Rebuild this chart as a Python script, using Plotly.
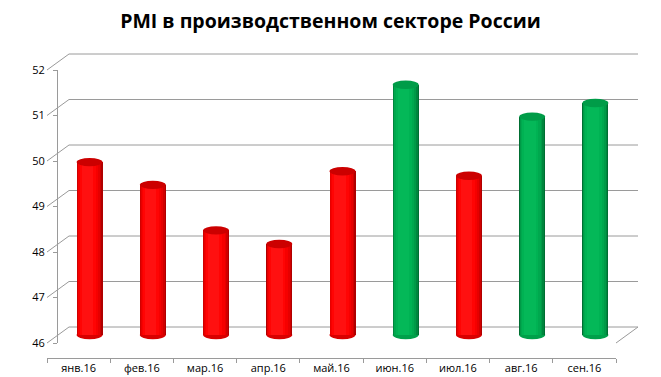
import plotly.graph_objects as go

# ---------------- data ----------------
categories = ["янв.16", "фев.16", "мар.16", "апр.16", "май.16",
              "июн.16", "июл.16", "авг.16", "сен.16"]
pmi = [49.8, 49.3, 48.3, 48.0, 49.6, 51.5, 49.5, 50.8, 51.1]
y_ticks = [46, 47, 48, 49, 50, 51, 52]
threshold = 50.0
title_text = "PMI в производственном секторе России"

# ---------------- geometry / style ----------------
W, H = 661, 377
FX0, FX1 = 47, 616          # front plane x (pixels)
FY_LO, FY_HI = 343, 70      # front plane y pixel of y-min / y-max
DEPTH_X, DEPTH_Y = 22, -16  # offset of back wall
Y_MIN, Y_MAX = 46, 52
PX_PER_UNIT = (FY_LO - FY_HI) / (Y_MAX - Y_MIN)
BAR_RANGE_LO = 45.5
GRID = "#9a9a9a"
FONT = "Open Sans"

def xdom(p0, p1):
    return [p0 / W, p1 / W]

def ydom(p_lo, p_hi):
    return [1 - p_lo / H, 1 - p_hi / H]

n = len(categories)
idx = list(range(n))
cat_px = (FX1 - FX0) / n
bar_w = 26 / cat_px
cap_h = 4.2 / PX_PER_UNIT

RED = dict(layers=["#b00000", "#d00000", "#e60000", "#f60000", "#ff0404", "#ff1010"],
           cap="#cc0000", bottom="#d80000")
GREEN = dict(layers=["#006e32", "#00863e", "#009a47", "#00a84e", "#00b253", "#04b858"],
             cap="#009c48", bottom="#00a04a")
layer_scale = [1.0, 0.94, 0.86, 0.76, 0.62, 0.44]
layer_shift = [0.0, -0.015, -0.035, -0.055, -0.075, -0.09]

pal = [GREEN if v >= threshold else RED for v in pmi]

fig = go.Figure()

# cylinder bodies (mid plane axes)
for li, sc in enumerate(layer_scale):
    w = bar_w * sc
    fig.add_trace(go.Bar(
        x=idx, y=[v - Y_MIN for v in pmi], base=Y_MIN,
        width=w, offset=-w / 2 + layer_shift[li] * bar_w,
        marker=dict(color=[p["layers"][li] for p in pal], line=dict(width=0)),
        xaxis="x2", yaxis="y2", showlegend=False, hoverinfo="skip"))

# front axes (labels)
fig.add_trace(go.Scatter(x=categories, y=pmi, mode="markers", marker=dict(opacity=0),
                         xaxis="x3", yaxis="y3", showlegend=False, hoverinfo="skip"))

shapes = []
# back-wall gridlines and depth diagonals
for t in y_ticks:
    py = FY_LO - (t - Y_MIN) * PX_PER_UNIT
    shapes.append(dict(type="line", xref="paper", yref="paper", layer="below",
                       x0=(FX0 + DEPTH_X) / W, y0=1 - (py + DEPTH_Y) / H,
                       x1=(FX1 + DEPTH_X) / W, y1=1 - (py + DEPTH_Y) / H,
                       line=dict(color=GRID, width=1)))
    shapes.append(dict(type="line", xref="paper", yref="paper", layer="below",
                       x0=FX0 / W, y0=1 - py / H,
                       x1=(FX0 + DEPTH_X) / W, y1=1 - (py + DEPTH_Y) / H,
                       line=dict(color=GRID, width=1)))
shapes.append(dict(type="line", xref="paper", yref="paper", layer="below",
                   x0=FX1 / W, y0=1 - FY_LO / H,
                   x1=(FX1 + DEPTH_X) / W, y1=1 - (FY_LO + DEPTH_Y) / H,
                   line=dict(color=GRID, width=1)))

# bottom and top ellipses of cylinders
for i, v in enumerate(pmi):
    shapes.append(dict(type="circle", xref="x2", yref="y2", layer="between",
                       x0=i - bar_w / 2, x1=i + bar_w / 2,
                       y0=Y_MIN - cap_h, y1=Y_MIN + cap_h,
                       fillcolor=pal[i]["bottom"], line=dict(width=0)))
    shapes.append(dict(type="circle", xref="x2", yref="y2", layer="above",
                       x0=i - bar_w / 2, x1=i + bar_w / 2,
                       y0=v - cap_h, y1=v + cap_h,
                       fillcolor=pal[i]["cap"], line=dict(width=0)))

mid_dx, mid_dy = DEPTH_X / 2, DEPTH_Y / 2
bar_lo_px = FY_LO + mid_dy + (Y_MIN - BAR_RANGE_LO) * PX_PER_UNIT

fig.update_layout(
    width=W, height=H,
    margin=dict(l=0, r=0, t=0, b=0, autoexpand=False),
    paper_bgcolor="white", plot_bgcolor="rgba(0,0,0,0)",
    barmode="overlay", bargap=0,
    showlegend=False,
    font=dict(family=FONT, size=11, color="#000000"),
    title=dict(text="<b>" + title_text + "</b>", x=0.5, xanchor="center",
               xref="paper", yref="container", y=1 - 21 / H, yanchor="middle",
               font=dict(family=FONT, size=19.5, color="#000000")),
    xaxis2=dict(domain=xdom(FX0 + mid_dx, FX1 + mid_dx), range=[-0.5, n - 0.5],
                visible=False, fixedrange=True, automargin=False),
    yaxis2=dict(domain=ydom(bar_lo_px, FY_HI + mid_dy), range=[BAR_RANGE_LO, Y_MAX],
                visible=False, fixedrange=True, automargin=False),
    xaxis3=dict(domain=xdom(FX0, FX1), type="category", range=[-0.5, n - 0.5],
                showgrid=False, zeroline=False, showline=True, linecolor=GRID,
                linewidth=1, ticks="outside", tickson="boundaries", ticklen=4,
                tickcolor=GRID, ticklabelstandoff=0, fixedrange=True, automargin=False,
                tickfont=dict(family=FONT, size=11, color="#000")),
    yaxis3=dict(domain=ydom(FY_LO, FY_HI), range=[Y_MIN, Y_MAX], tickvals=y_ticks,
                showgrid=False, zeroline=False, showline=True, linecolor=GRID,
                linewidth=1, ticks="outside", ticklen=4, tickcolor=GRID,
                ticklabelstandoff=6, fixedrange=True, automargin=False,
                tickfont=dict(family=FONT, size=11, color="#000")),
    shapes=shapes,
)

fig.write_html("out.html")
